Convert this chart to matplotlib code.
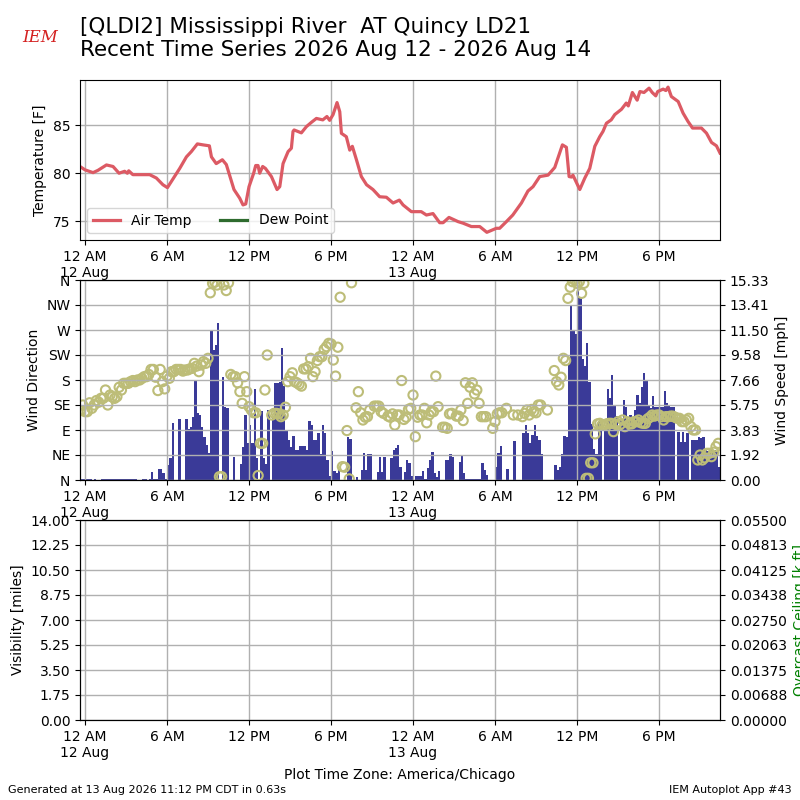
import datetime as dt

import numpy as np
import matplotlib
import matplotlib.pyplot as plt
import matplotlib.dates as mdates
from matplotlib.ticker import FuncFormatter

matplotlib.use("Agg")

nan = np.nan
BASE = dt.datetime(2026, 8, 12, 0, 0)

# ---------------------------------------------------------------------------
# Air temperature, hours since 12 Aug 00:00 local
# ---------------------------------------------------------------------------
temp_hours = [
    -0.37, 0.0, 0.59, 0.95, 1.57, 2.05, 2.49, 2.9, 3.1, 3.2, 3.5, 4.73, 5.22,
    5.7, 6.03, 6.3, 6.93, 7.42, 7.78, 8.22, 8.63, 9.1, 9.25, 9.6, 10.05, 10.34,
    10.9, 11.32, 11.56, 11.76, 12.0, 12.34, 12.49, 12.66, 12.78, 13.0, 13.2,
    13.64, 14.05, 14.25, 14.49, 14.86, 15.1, 15.22, 15.3, 15.83, 16.2, 16.57,
    16.93, 17.4, 17.7, 17.9, 18.15, 18.44, 18.64, 18.76, 19.12, 19.37, 19.56,
    19.86, 20.22, 20.6, 21.07, 21.56, 22.05, 22.54, 23.0, 23.27, 23.88, 24.6,
    24.98, 25.46, 25.95, 26.2, 26.63, 27.3, 27.66, 28.27, 28.88, 29.4, 30.1,
    30.34, 30.83, 31.3, 31.93, 32.41, 32.78, 33.27, 33.88, 34.37, 34.68, 34.93,
    35.22, 35.42, 35.6, 35.7, 36.2, 36.57, 36.93, 37.3, 37.66, 37.9, 38.15,
    38.5, 38.76, 39.25, 39.6, 39.75, 40.05, 40.4, 40.6, 40.9, 41.27, 41.5,
    41.76, 41.9, 42.3, 42.5, 42.66, 42.9, 43.4, 43.76, 44.12, 44.45, 45.1,
    45.47, 45.84, 46.2, 46.46,
]
temp_f = [
    80.7, 80.35, 80.06, 80.3, 80.86, 80.7, 80.0, 80.2, 80.0, 80.25, 79.85,
    79.85, 79.5, 78.8, 78.5, 79.1, 80.5, 81.7, 82.25, 83.05, 82.95, 82.85,
    81.7, 81.0, 81.4, 80.9, 78.3, 77.4, 76.7, 76.8, 78.6, 80.0, 80.8, 80.8,
    80.0, 80.7, 80.5, 79.65, 78.3, 78.6, 81.0, 82.25, 82.6, 84.35, 84.5, 84.2,
    84.85, 85.3, 85.7, 85.55, 85.9, 85.5, 86.1, 87.35, 86.4, 84.15, 83.8, 82.4,
    82.8, 81.4, 79.65, 78.8, 78.3, 77.55, 77.5, 76.9, 77.2, 76.7, 76.0, 76.0,
    75.65, 75.8, 74.85, 74.85, 75.4, 74.96, 74.8, 74.45, 74.45, 73.85, 74.27,
    74.27, 74.96, 75.65, 76.9, 78.15, 78.6, 79.65, 79.8, 80.6, 81.9, 82.95,
    82.7, 79.65, 79.6, 79.8, 78.3, 79.5, 80.5, 82.8, 83.8, 84.35, 85.2, 85.55,
    86.1, 86.65, 87.3, 87.0, 88.4, 87.6, 88.5, 88.4, 88.85, 88.4, 88.05, 88.5,
    88.75, 88.6, 88.96, 87.98, 87.46, 86.25, 85.38, 84.7, 84.7, 84.17, 83.2,
    82.85, 82.1,
]

# ---------------------------------------------------------------------------
# Wind, 10 minute obs starting 11 Aug 23:40 (one row per hour)
# ---------------------------------------------------------------------------
wind_speed = [
    0.08, 0.08,
    0.08, 0.08, 0.08, 0.0, 0.08, 0.0,
    0.0, 0.08, 0.08, 0.08, 0.08, 0.08,
    0.08, 0.08, 0.08, 0.08, 0.08, 0.08,
    0.08, 0.08, 0.08, 0.08, 0.08, 0.0,
    0.0, 0.08, 0.08, 0.0, 0.08, 0.64,
    0.05, 0.05, 0.85, 0.85, 0.5, 0.05,
    1.15, 1.66, 4.39, 0.0, 0.0, 4.68,
    0.0, 0.0, 4.7, 3.9, 4.1, 4.85,
    7.67, 5.16, 4.98, 4.09, 3.32, 2.68,
    2.04, 11.5, 9.96, 10.35, 12.0, 0.0,
    7.92, 5.62, 5.5, 0.0, 0.0, 1.79,
    0.0, 0.0, 1.2, 2.55, 4.98, 2.8,
    4.2, 2.8, 7.0, 1.7, 0.0, 5.3,
    1.7, 1.2, 5.4, 0.0, 4.85, 7.4,
    7.4, 7.5, 10.1, 7.2, 3.83, 3.07,
    2.55, 3.4, 2.3, 2.3, 2.6, 2.6,
    2.6, 2.3, 4.55, 4.24, 3.07, 3.07,
    3.6, 2.0, 4.24, 3.6, 1.5, 0.3,
    2.2, 0.7, 0.55, 0.85, 0.0, 0.0,
    0.0, 3.3, 3.17, 0.0, 0.0, 0.25,
    0.0, 0.77, 2.1, 0.8, 2.0, 2.0,
    0.0, 0.0, 0.6, 1.8, 0.6, 1.8,
    0.0, 0.0, 1.7, 2.3, 2.45, 2.7,
    1.0, 0.0, 0.6, 1.5, 1.3, 0.3,
    0.0, 0.3, 0.3, 0.3, 0.7, 0.1,
    0.9, 1.5, 2.17, 0.5, 0.25, 0.7,
    0.0, 0.0, 1.5, 1.5, 2.0, 1.8,
    0.0, 0.0, 1.4, 1.85, 0.5, 0.1,
    0.08, 0.08, 0.08, 0.08, 0.08, 0.08,
    1.28, 0.77, 0.4, 0.0, 0.0, 0.0,
    1.0, 2.1, 2.6, 0.0, 0.0, 0.87,
    0.0, 0.0, 3.0, 0.0, 0.0, 0.0,
    3.6, 4.2, 3.6, 2.8, 3.45, 4.2,
    3.4, 3.07, 2.0, 0.0, 0.0, 0.0,
    0.0, 0.0, 1.15, 0.8, 1.0, 2.0,
    3.4, 3.3, 9.0, 13.3, 11.4, 11.2,
    14.6, 14.0, 9.3, 8.7, 10.5, 7.5,
    4.3, 2.35, 2.0, 4.5, 4.3, 0.0,
    4.1, 7.0, 6.3, 8.05, 5.75, 4.9,
    0.0, 4.7, 6.1, 5.6, 4.6, 5.0,
    4.6, 5.4, 6.5, 5.9, 7.15, 8.2,
    7.7, 5.75, 5.5, 6.4, 5.6, 5.6,
    5.6, 5.6, 6.8, 5.9, 5.75, 5.6,
    5.6, 0.0, 3.7, 2.9, 3.7, 2.95,
    3.6, 0.0, 3.1, 3.1, 3.1, 3.3,
    3.2, 3.3, 2.3, 2.2, 2.3, 2.3,
    2.3, 2.2, 1.0,
]
wind_dir = [
    125, 135,
    123, 123, 139, 129, 135, 143,
    140, 147, 147, 162, 135, 153,
    150, 147, 150, 167, 162, 174,
    174, 174, 177, 179, 177, 180,
    180, 183, 186, 186, 190, 199,
    199, 185, 161, 199, 177, 164,
    187, 183, 195, 195, 199, 199,
    199, 196, 198, 198, 200, 201,
    210, 205, 195, 207, 213, 210,
    219, 337, 354, 356, 351, 6,
    6, 351, 341, 355, 190, 186,
    186, 175, 159, 138, 186, 159,
    132, 126, 121, 121, 8, 66,
    66, 162, 225, nan, 117, 120,
    120, 119, 114, 117, 131, 177,
    186, 193, 177, 175, 172, 169,
    200, 200, 204, 219, 186, 195,
    215, 222, 222, 235, 240, 246,
    245, 216, 187, 239, 329, 24,
    23, 89, 2, 355, nan, 130,
    159, 121, 108, 113, 114, 126,
    nan, 133, 133, 133, 123, 120,
    nan, 115, 113, 119, 99, 117,
    117, 179, 109, 113, 127, 129,
    153, 78, 113, 117, 117, 129,
    103, 117, 123, 123, 187, 132,
    nan, 95, 95, 93, 119, 120,
    nan, 115, 115, 126, 107, 175,
    138, 167, 175, 155, 162, 138,
    114, 114, 114, nan, nan, 93,
    105, 119, 121, 121, nan, 129,
    nan, nan, 117, nan, 117, nan,
    114, 120, 126, 117, 127, 123,
    121, 135, 135, nan, nan, 126,
    nan, nan, 197, 177, 171, 185,
    219, 215, 327, 347, 357, 360,
    354, 357, 336, 354, 3, 3,
    31, 31, 83, 101, 102, 99,
    99, 101, 102, 102, 87, 100,
    105, 100, 108, 96, 105, 101,
    101, 105, 105, 108, 103, 102,
    102, 110, 113, 117, 115, 117,
    117, 114, 108, 114, 114, 115,
    115, 113, 111, 111, 105, 105,
    108, 111, 96, 90, 90, 36,
    45, 36, 40, 48, 48, 42,
    50, 60, 66,
]
dir_labels = ["N", "NE", "E", "SE", "S", "SW", "W", "NW", "N"]

temp_times = [BASE + dt.timedelta(hours=h) for h in temp_hours]
wind_start = BASE - dt.timedelta(minutes=20)
wind_times = [wind_start + dt.timedelta(minutes=10 * i) for i in range(len(wind_speed))]
xmin = BASE + dt.timedelta(hours=-0.366)
xmax = BASE + dt.timedelta(hours=46.46)


def time_label(x, pos=None):
    t = mdates.num2date(x)
    hr = t.hour % 12 or 12
    lbl = f"{hr} {'AM' if t.hour < 12 else 'PM'}"
    if t.hour == 0:
        lbl += "\n" + f"{t.day} {t.strftime('%b')}"
    return lbl


def setup_time_axis(ax):
    ax.set_xlim(xmin, xmax)
    ax.xaxis.set_major_locator(mdates.HourLocator(byhour=[0, 6, 12, 18]))
    ax.xaxis.set_major_formatter(FuncFormatter(time_label))
    ax.grid(True, color="#b0b0b0", lw=1)


fig = plt.figure(figsize=(8, 8), dpi=100)

# --- temperature panel ---
ax1 = fig.add_axes([0.1, 0.70, 0.8, 0.20])
ax1.plot(temp_times, temp_f, color="#dc5a64", lw=2.3, label="Air Temp")
ax1.plot([], [], color="#2e6b2e", lw=2.3, label="Dew Point")
ax1.set_ylim(73.05, 89.7)
ax1.set_yticks([75, 80, 85])
ax1.set_ylabel("Temperature [F]")
setup_time_axis(ax1)
ax1.legend(loc="lower left", ncol=2, fontsize=10)

# --- wind panel ---
ax2 = fig.add_axes([0.1, 0.40, 0.8, 0.25])
ax2r = ax2.twinx()
ax2.set_zorder(ax2r.get_zorder() + 1)
ax2.patch.set_visible(False)
ax2r.bar(wind_times, wind_speed, width=10 / 1440.0, align="edge",
         color="#3a3a98", lw=0)
ax2r.set_ylim(0, 15.328)
ax2r.set_yticks(np.linspace(0, 15.328, 9))
ax2r.yaxis.set_major_formatter(FuncFormatter(lambda v, p: f"{v:.2f}"))
ax2r.set_ylabel("Wind Speed [mph]")
ax2.scatter(wind_times, wind_dir, s=44, facecolors="none",
            edgecolors="#bdbd78", linewidths=1.5)
ax2.set_ylim(0, 360)
ax2.set_yticks(np.arange(0, 361, 45))
ax2.set_yticklabels(dir_labels)
ax2.set_ylabel("Wind Direction")
setup_time_axis(ax2)

# --- visibility / ceiling panel ---
ax3 = fig.add_axes([0.1, 0.10, 0.8, 0.25])
ax3.set_ylim(0, 14)
ax3.set_yticks(np.linspace(0, 14, 9))
ax3.yaxis.set_major_formatter(FuncFormatter(lambda v, p: f"{v:.2f}"))
ax3.set_ylabel("Visibility [miles]")
setup_time_axis(ax3)
ax3r = ax3.twinx()
ax3r.set_ylim(0, 0.055)
ax3r.set_yticks(np.linspace(0, 0.055, 9))
ax3r.yaxis.set_major_formatter(FuncFormatter(lambda v, p: f"{v:.5f}"))
ax3r.set_ylabel("Overcast Ceiling [k ft]", color="green")

# --- titles and footer ---
fig.text(0.1, 0.979, "[QLDI2] Mississippi River  AT Quincy LD21\n"
         "Recent Time Series 2026 Aug 12 - 2026 Aug 14",
         fontsize=15.5, va="top", ha="left", linespacing=1.2)
fig.text(0.05, 0.953, "IEM", color="#d42020", fontsize=12, style="italic",
         family="DejaVu Serif", ha="center", va="center")
fig.text(0.5, 0.031, "Plot Time Zone: America/Chicago", ha="center",
         va="center", fontsize=10)
fig.text(0.01, 0.012, "Generated at 13 Aug 2026 11:12 PM CDT in 0.63s",
         fontsize=8, va="center", ha="left")
fig.text(0.99, 0.012, "IEM Autoplot App #43", fontsize=8, va="center",
         ha="right")

fig.savefig("out.png", dpi=100)
plt.close(fig)
